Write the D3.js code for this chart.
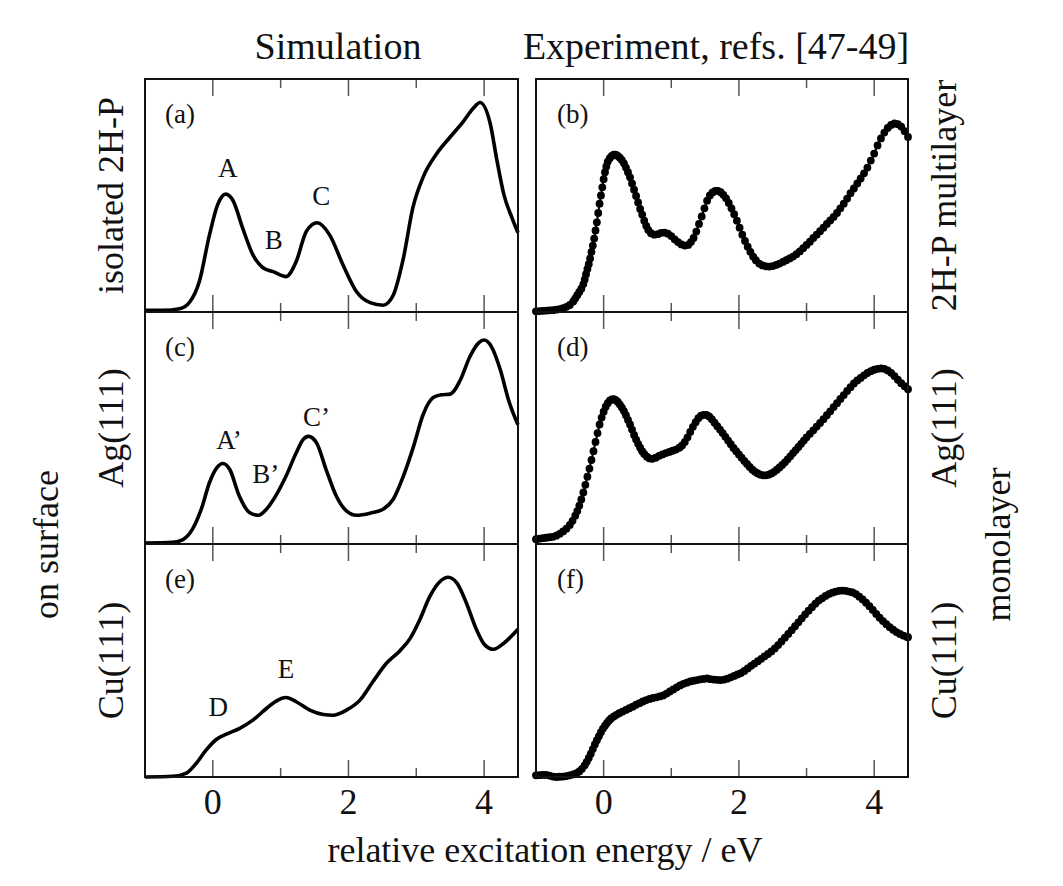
<!DOCTYPE html>
<html><head><meta charset="utf-8">
<script src="https://cdn.jsdelivr.net/npm/d3@7"></script>
<style>
body{margin:0;background:#fff}
text{font-family:"Liberation Serif","Times New Roman",serif;fill:#111}
</style>
</head><body>
<svg id="chart" width="1063" height="886"></svg>
<script>
// ---------------- data ----------------
const xDomain = [-1, 4.5];
const xTicks = [0, 1, 2, 3, 4];
const xTickLabels = [0, 2, 4];
const columnTitles = ["Simulation", "Experiment, refs. [47-49]"];
const panelLetters = ["(a)", "(b)", "(c)", "(d)", "(e)", "(f)"];
const leftRowLabels = ["isolated 2H-P", "Ag(111)", "Cu(111)"];
const rightRowLabels = ["2H-P multilayer", "Ag(111)", "Cu(111)"];
const xAxisTitle = "relative excitation energy / eV";

// simulation spectra (energy eV, normalised intensity)
const simA = [[-1,0.007],[-0.73,0.007],[-0.49,0.014],[-0.34,0.043],[-0.2,0.13],[-0.05,0.33],[0.07,0.46],[0.19,0.506],[0.3,0.477],[0.44,0.36],[0.59,0.246],[0.74,0.19],[0.89,0.173],[1.08,0.152],[1.23,0.217],[1.38,0.347],[1.54,0.383],[1.72,0.332],[1.92,0.202],[2.12,0.087],[2.32,0.04],[2.51,0.029],[2.66,0.072],[2.81,0.231],[2.95,0.448],[3.1,0.578],[3.3,0.679],[3.5,0.751],[3.69,0.816],[3.84,0.874],[3.94,0.899],[4.09,0.809],[4.19,0.65],[4.29,0.506],[4.41,0.405],[4.5,0.34]];
const simC = [[-1,0.004],[-0.59,0.007],[-0.44,0.019],[-0.3,0.064],[-0.17,0.15],[-0.05,0.264],[0.06,0.329],[0.15,0.347],[0.25,0.321],[0.39,0.207],[0.54,0.136],[0.67,0.124],[0.79,0.15],[0.94,0.214],[1.08,0.293],[1.23,0.393],[1.33,0.45],[1.41,0.464],[1.53,0.436],[1.67,0.321],[1.82,0.207],[1.97,0.143],[2.12,0.124],[2.32,0.133],[2.51,0.15],[2.66,0.193],[2.81,0.293],[2.96,0.421],[3.1,0.557],[3.25,0.631],[3.37,0.643],[3.5,0.646],[3.65,0.707],[3.79,0.807],[3.92,0.867],[4.0,0.879],[4.11,0.85],[4.24,0.75],[4.36,0.621],[4.5,0.514]];
const simE = [[-1,0.0],[-0.59,0.003],[-0.39,0.017],[-0.25,0.057],[-0.1,0.115],[0.05,0.161],[0.2,0.184],[0.39,0.208],[0.59,0.244],[0.79,0.294],[0.94,0.327],[1.08,0.341],[1.23,0.323],[1.43,0.287],[1.63,0.268],[1.77,0.265],[1.97,0.287],[2.17,0.33],[2.36,0.409],[2.56,0.488],[2.76,0.542],[2.91,0.595],[3.05,0.674],[3.2,0.775],[3.35,0.839],[3.47,0.857],[3.6,0.832],[3.74,0.746],[3.89,0.631],[4.01,0.567],[4.14,0.548],[4.29,0.574],[4.5,0.634]];

const expB = [[-1,0.003],[-0.95,0.004],[-0.9,0.005],[-0.85,0.006],[-0.8,0.007],[-0.75,0.008],[-0.7,0.01],[-0.65,0.012],[-0.6,0.016],[-0.55,0.022],[-0.5,0.03],[-0.45,0.045],[-0.42,0.058],[-0.39,0.072],[-0.36,0.086],[-0.33,0.1],[-0.3,0.12],[-0.28,0.14],[-0.26,0.162],[-0.24,0.185],[-0.22,0.205],[-0.2,0.23],[-0.18,0.258],[-0.16,0.285],[-0.14,0.315],[-0.12,0.35],[-0.1,0.385],[-0.08,0.425],[-0.06,0.465],[-0.04,0.5],[-0.02,0.535],[0,0.57],[0.02,0.6],[0.04,0.625],[0.06,0.645],[0.09,0.66],[0.12,0.67],[0.15,0.675],[0.18,0.675],[0.21,0.67],[0.24,0.662],[0.27,0.652],[0.3,0.638],[0.33,0.62],[0.36,0.6],[0.39,0.578],[0.42,0.552],[0.45,0.525],[0.48,0.498],[0.51,0.47],[0.54,0.442],[0.57,0.418],[0.6,0.392],[0.63,0.37],[0.66,0.352],[0.7,0.338],[0.75,0.332],[0.8,0.334],[0.85,0.34],[0.9,0.341],[0.95,0.336],[1,0.326],[1.05,0.312],[1.1,0.3],[1.15,0.29],[1.2,0.285],[1.25,0.288],[1.29,0.3],[1.33,0.318],[1.37,0.345],[1.41,0.378],[1.45,0.41],[1.49,0.445],[1.53,0.478],[1.57,0.5],[1.61,0.513],[1.65,0.52],[1.69,0.52],[1.73,0.514],[1.77,0.503],[1.81,0.488],[1.85,0.468],[1.89,0.445],[1.93,0.42],[1.97,0.392],[2.01,0.362],[2.05,0.332],[2.09,0.305],[2.13,0.28],[2.17,0.258],[2.21,0.238],[2.25,0.222],[2.3,0.208],[2.35,0.2],[2.4,0.196],[2.45,0.195],[2.5,0.197],[2.55,0.202],[2.6,0.208],[2.65,0.215],[2.7,0.222],[2.75,0.23],[2.8,0.238],[2.85,0.248],[2.9,0.26],[2.95,0.274],[3,0.288],[3.05,0.302],[3.1,0.318],[3.15,0.332],[3.2,0.347],[3.25,0.362],[3.3,0.378],[3.35,0.393],[3.4,0.408],[3.45,0.425],[3.5,0.445],[3.55,0.465],[3.6,0.487],[3.65,0.51],[3.7,0.53],[3.75,0.552],[3.8,0.573],[3.85,0.595],[3.9,0.62],[3.95,0.65],[4,0.68],[4.05,0.715],[4.1,0.745],[4.15,0.77],[4.2,0.79],[4.25,0.803],[4.3,0.809],[4.35,0.806],[4.4,0.796],[4.45,0.776],[4.5,0.751]];
const expD = [[-1,0.021],[-0.95,0.023],[-0.9,0.025],[-0.85,0.027],[-0.8,0.029],[-0.75,0.031],[-0.7,0.036],[-0.65,0.044],[-0.6,0.054],[-0.55,0.066],[-0.5,0.082],[-0.46,0.1],[-0.42,0.122],[-0.39,0.142],[-0.36,0.165],[-0.33,0.192],[-0.3,0.222],[-0.27,0.255],[-0.24,0.29],[-0.21,0.325],[-0.18,0.362],[-0.15,0.4],[-0.12,0.44],[-0.09,0.478],[-0.06,0.515],[-0.03,0.545],[0,0.57],[0.03,0.592],[0.06,0.607],[0.09,0.618],[0.12,0.623],[0.15,0.624],[0.18,0.62],[0.21,0.612],[0.24,0.601],[0.27,0.588],[0.3,0.573],[0.33,0.555],[0.36,0.535],[0.39,0.515],[0.42,0.493],[0.45,0.47],[0.48,0.45],[0.51,0.432],[0.54,0.415],[0.57,0.4],[0.6,0.388],[0.64,0.376],[0.68,0.369],[0.72,0.367],[0.77,0.372],[0.82,0.38],[0.87,0.386],[0.92,0.392],[0.97,0.397],[1.02,0.402],[1.07,0.407],[1.12,0.415],[1.16,0.425],[1.2,0.44],[1.24,0.46],[1.28,0.483],[1.32,0.505],[1.36,0.525],[1.4,0.542],[1.44,0.553],[1.48,0.557],[1.52,0.557],[1.56,0.55],[1.6,0.538],[1.64,0.523],[1.68,0.508],[1.72,0.493],[1.76,0.478],[1.8,0.462],[1.84,0.446],[1.88,0.43],[1.92,0.414],[1.96,0.4],[2,0.386],[2.04,0.372],[2.08,0.358],[2.12,0.345],[2.16,0.332],[2.2,0.32],[2.24,0.311],[2.28,0.304],[2.32,0.299],[2.36,0.296],[2.4,0.296],[2.44,0.299],[2.48,0.304],[2.52,0.311],[2.56,0.32],[2.6,0.33],[2.64,0.341],[2.68,0.352],[2.72,0.365],[2.76,0.378],[2.8,0.392],[2.84,0.405],[2.88,0.418],[2.92,0.432],[2.96,0.446],[3,0.46],[3.05,0.475],[3.1,0.49],[3.15,0.506],[3.2,0.522],[3.25,0.538],[3.3,0.555],[3.35,0.572],[3.4,0.59],[3.45,0.607],[3.5,0.625],[3.55,0.642],[3.6,0.66],[3.65,0.676],[3.7,0.692],[3.75,0.705],[3.8,0.716],[3.85,0.727],[3.9,0.737],[3.95,0.745],[4,0.751],[4.05,0.755],[4.1,0.757],[4.15,0.755],[4.2,0.748],[4.25,0.738],[4.3,0.724],[4.35,0.708],[4.4,0.693],[4.45,0.68],[4.5,0.667]];
const expF = [[-1,0.007],[-0.95,0.008],[-0.9,0.009],[-0.85,0.009],[-0.8,0.006],[-0.75,0.002],[-0.7,0],[-0.65,0.001],[-0.6,0.002],[-0.55,0.004],[-0.5,0.007],[-0.45,0.011],[-0.4,0.016],[-0.36,0.024],[-0.32,0.035],[-0.28,0.05],[-0.25,0.065],[-0.22,0.082],[-0.19,0.1],[-0.16,0.12],[-0.13,0.14],[-0.1,0.158],[-0.07,0.175],[-0.04,0.192],[-0.01,0.208],[0.02,0.22],[0.05,0.232],[0.08,0.243],[0.11,0.251],[0.15,0.26],[0.19,0.267],[0.23,0.274],[0.28,0.281],[0.33,0.288],[0.38,0.295],[0.43,0.302],[0.48,0.31],[0.53,0.317],[0.58,0.324],[0.63,0.33],[0.68,0.335],[0.73,0.339],[0.78,0.342],[0.83,0.346],[0.88,0.35],[0.93,0.358],[0.98,0.367],[1.03,0.376],[1.08,0.385],[1.13,0.393],[1.18,0.4],[1.23,0.405],[1.28,0.41],[1.33,0.413],[1.38,0.416],[1.43,0.419],[1.48,0.421],[1.53,0.423],[1.58,0.42],[1.63,0.418],[1.68,0.417],[1.73,0.416],[1.78,0.418],[1.83,0.422],[1.88,0.428],[1.93,0.434],[1.98,0.44],[2.03,0.446],[2.08,0.455],[2.13,0.466],[2.18,0.477],[2.23,0.487],[2.28,0.497],[2.33,0.507],[2.38,0.518],[2.43,0.528],[2.48,0.539],[2.53,0.552],[2.58,0.566],[2.63,0.582],[2.68,0.598],[2.73,0.614],[2.78,0.63],[2.83,0.647],[2.88,0.664],[2.93,0.681],[2.98,0.698],[3.03,0.714],[3.08,0.729],[3.13,0.744],[3.18,0.757],[3.23,0.767],[3.28,0.777],[3.33,0.785],[3.38,0.791],[3.43,0.796],[3.48,0.799],[3.53,0.8],[3.58,0.799],[3.63,0.796],[3.68,0.792],[3.73,0.785],[3.78,0.774],[3.83,0.762],[3.88,0.748],[3.93,0.733],[3.98,0.717],[4.03,0.7],[4.08,0.684],[4.13,0.669],[4.18,0.656],[4.23,0.643],[4.28,0.632],[4.33,0.622],[4.38,0.614],[4.43,0.607],[4.48,0.602],[4.5,0.6]];

// peak annotations: [panel index, label, energy, intensity]
const peakLabels = [
  [0, "A", 0.22, 0.58], [0, "B", 0.9, 0.27], [0, "C", 1.6, 0.46],
  [2, "A\u2019", 0.24, 0.41], [2, "B\u2019", 0.78, 0.265], [2, "C\u2019", 1.53, 0.51],
  [4, "D", 0.08, 0.26], [4, "E", 1.08, 0.425]
];

// ---------------- layout ----------------
const svg = d3.select("#chart");
const colX = [[145, 518], [536, 908]];
const rowY = [[79, 312], [312, 544], [544, 777]];
const FONT_BIG = 36, FONT_TITLE = 38, FONT_SMALL = 27;

const xScales = colX.map(r => d3.scaleLinear().domain(xDomain).range(r));
const yScales = rowY.map(r => d3.scaleLinear().domain([0, 1]).range([r[1], r[0]]));

const panels = [
  {col: 0, row: 0, sim: simA}, {col: 1, row: 0, exp: expB},
  {col: 0, row: 1, sim: simC}, {col: 1, row: 1, exp: expD},
  {col: 0, row: 2, sim: simE}, {col: 1, row: 2, exp: expF}
];

panels.forEach((p, i) => {
  const x = xScales[p.col], y = yScales[p.row];
  const g = svg.append("g");
  const [x0, x1] = x.range();
  const [yb, yt] = y.range();
  // ticks top & bottom, inward
  xTicks.forEach(t => {
    const len = (t % 2 === 0) ? 17 : 9;
    g.append("line").attr("x1", x(t)).attr("x2", x(t)).attr("y1", yb).attr("y2", yb - len)
      .attr("stroke", "#555").attr("stroke-width", 1.5);
    g.append("line").attr("x1", x(t)).attr("x2", x(t)).attr("y1", yt).attr("y2", yt + len)
      .attr("stroke", "#555").attr("stroke-width", 1.5);
  });
  if (p.sim) {
    const line = d3.line().x(d => x(d[0])).y(d => y(d[1])).curve(d3.curveMonotoneX);
    g.append("path").datum(p.sim).attr("d", line).attr("fill", "none")
      .attr("stroke", "#000").attr("stroke-width", 3.6).attr("stroke-linejoin", "round");
  }
  if (p.exp) {
    const line = d3.line().x(d => x(d[0])).y(d => y(d[1])).curve(d3.curveMonotoneX);
    g.append("path").datum(p.exp).attr("d", line).attr("fill", "none")
      .attr("stroke", "#000").attr("stroke-width", 2);
    g.selectAll("circle").data(p.exp).enter().append("circle")
      .attr("cx", d => x(d[0])).attr("cy", d => y(d[1])).attr("r", 3.9).attr("fill", "#000");
  }
  // frame
  g.append("rect").attr("x", x0).attr("y", yt).attr("width", x1 - x0).attr("height", yb - yt)
    .attr("fill", "none").attr("stroke", "#111").attr("stroke-width", 2);
  // panel letter
  g.append("text").attr("x", x0 + (p.col ? 21 : 20)).attr("y", yt + 44)
    .attr("font-size", FONT_SMALL).text(panelLetters[i]);
});

// peak labels
peakLabels.forEach(([pi, lab, ex, iy]) => {
  const p = panels[pi];
  svg.append("text").attr("x", xScales[p.col](ex)).attr("y", yScales[p.row](iy))
    .attr("text-anchor", "middle").attr("font-size", FONT_SMALL).text(lab);
});

// tick labels
[0, 1].forEach(c => {
  xTickLabels.forEach(t => {
    svg.append("text").attr("x", xScales[c](t)).attr("y", 814)
      .attr("text-anchor", "middle").attr("font-size", FONT_BIG).text(t);
  });
});

// column titles
svg.append("text").attr("x", 338).attr("y", 59).attr("text-anchor", "middle")
  .attr("font-size", FONT_TITLE).text(columnTitles[0]);
svg.append("text").attr("x", 716).attr("y", 59).attr("text-anchor", "middle")
  .attr("font-size", FONT_TITLE).text(columnTitles[1]);

// x axis title
svg.append("text").attr("x", 545).attr("y", 862).attr("text-anchor", "middle")
  .attr("font-size", FONT_BIG).text(xAxisTitle);

// rotated row labels
function vtext(xp, yp, s) {
  svg.append("text").attr("transform", `translate(${xp},${yp}) rotate(-90)`)
    .attr("text-anchor", "middle").attr("font-size", FONT_BIG).text(s);
}
rowY.forEach((r, i) => {
  const cy = (r[0] + r[1]) / 2;
  vtext(123, cy, leftRowLabels[i]);
  vtext(956, cy, rightRowLabels[i]);
});
vtext(58, (rowY[1][0] + rowY[2][1]) / 2, "on surface");
vtext(1010, (rowY[1][0] + rowY[2][1]) / 2, "monolayer");
</script>
</body></html>
